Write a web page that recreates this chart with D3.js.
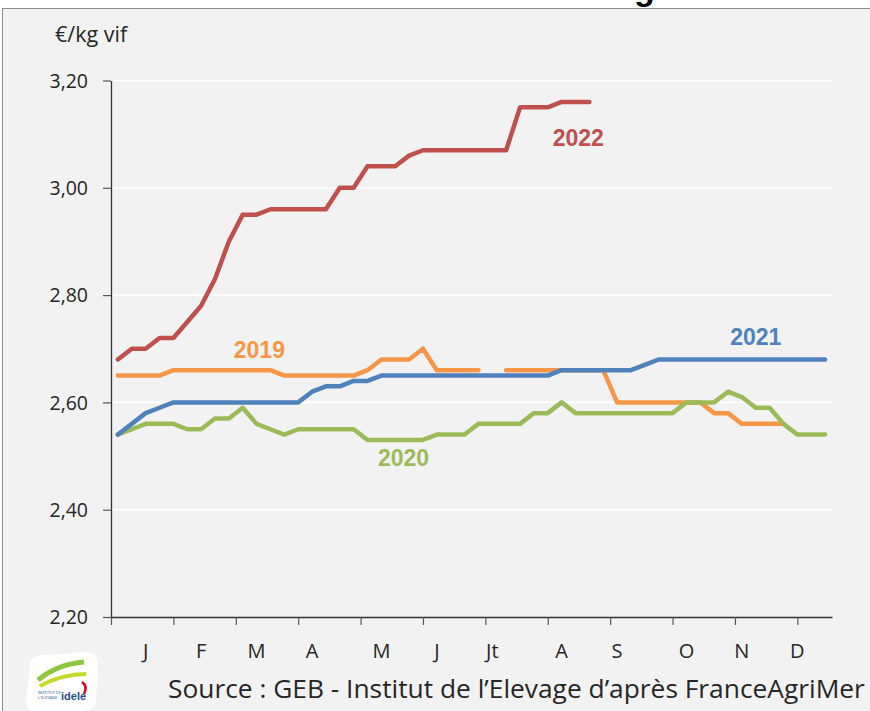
<!DOCTYPE html>
<meta charset="utf-8">
<style>
body { margin: 0; background: #fff; }
svg, text { font-family: 'Open Sans', sans-serif; }
</style>
<body>
<script src="https://d3js.org/d3.v7.min.js"></script>
<script>

// weekly prices, 52 weeks, null = no quote
var s2019 = [2.65,2.65,2.65,2.65,2.66,2.66,2.66,2.66,2.66,2.66,2.66,2.66,2.65,2.65,2.65,2.65,2.65,2.65,2.66,2.68,
             2.68,2.68,2.70,2.66,2.66,2.66,2.66,null,2.66,2.66,2.66,2.66,2.66,2.66,2.66,2.66,2.60,2.60,2.60,2.60,
             2.60,2.60,2.60,2.58,2.58,2.56,2.56,2.56,2.56,null,null,null];
var s2020 = [2.54,2.55,2.56,2.56,2.56,2.55,2.55,2.57,2.57,2.59,2.56,2.55,2.54,2.55,2.55,2.55,2.55,2.55,2.53,2.53,
             2.53,2.53,2.53,2.54,2.54,2.54,2.56,2.56,2.56,2.56,2.58,2.58,2.60,2.58,2.58,2.58,2.58,2.58,2.58,2.58,
             2.58,2.60,2.60,2.60,2.62,2.61,2.59,2.59,2.56,2.54,2.54,2.54];
var s2021 = [2.54,2.56,2.58,2.59,2.60,2.60,2.60,2.60,2.60,2.60,2.60,2.60,2.60,2.60,2.62,2.63,2.63,2.64,2.64,2.65,
             2.65,2.65,2.65,2.65,2.65,2.65,2.65,2.65,2.65,2.65,2.65,2.65,2.66,2.66,2.66,2.66,2.66,2.66,2.67,2.68,
             2.68,2.68,2.68,2.68,2.68,2.68,2.68,2.68,2.68,2.68,2.68,2.68];
var s2022 = [2.68,2.70,2.70,2.72,2.72,2.75,2.78,2.83,2.90,2.95,2.95,2.96,2.96,2.96,2.96,2.96,3.00,3.00,3.04,3.04,
             3.04,3.06,3.07,3.07,3.07,3.07,3.07,3.07,3.07,3.15,3.15,3.15,3.16,3.16,3.16];

var monthLabels = ["J","F","M","A","M","J","Jt","A","S","O","N","D"];
var monthWeeks  = [2,6,10,14,19,23,27,32,36,41,45,49];
var tickWeeks   = [0,4.5,9,13.5,18,22.5,27,31.5,36,40.5,45,49.5];
var yTicks      = [2.2,2.4,2.6,2.8,3.0,3.2];

var years   = ["2019","2020","2021","2022"];
var colors  = ["#F79646","#9BBB59","#4F81BD","#C0504D"];
var series  = [s2019,s2020,s2021,s2022];
// where each year label sits: [week, value]
var yearLabelPos = [[10.7,2.683],[21.1,2.481],[46.5,2.707],[33.7,3.078]];

var W = 870, H = 711;
var svg = d3.select("body").append("svg").attr("width", W).attr("height", H);

// cut-off title at very top
svg.append("text").attr("x", 634).attr("y", 0)
    .style("font-family","'Liberation Sans', Arial, sans-serif")
    .style("font-weight","bold").style("font-size","34px").attr("fill","#000").text("g");

// panel
svg.append("rect").attr("x", 2.5).attr("y", 8.5).attr("width", 880).attr("height", 720)
    .attr("fill", "#F2F2F2").attr("stroke", "#8a8a8a").attr("stroke-width", 1);

var x = d3.scaleLinear().domain([0, 52]).range([111, 832]);
var y = d3.scaleLinear().domain([2.2, 3.2]).range([617, 80.5]);

// gridlines
svg.append("g").selectAll("line").data(yTicks.slice(1)).join("line")
    .attr("x1", x(0)).attr("x2", x(52))
    .attr("y1", function(d){ return y(d); }).attr("y2", function(d){ return y(d); })
    .attr("stroke", "#fff").attr("stroke-width", 1.6);

var yAxis = d3.axisLeft(y).tickValues(yTicks).tickSize(8).tickSizeOuter(0)
    .tickFormat(function(d){ return d3.format(".2f")(d).replace(".", ","); });
var gy = svg.append("g").attr("transform", "translate(" + x(0) + ",0)").call(yAxis);
gy.selectAll("text").attr("x", -23).attr("dy", "0.35em").style("font-size", "19.5px").attr("fill", "#262626");

var xAxis = d3.axisBottom(x).tickValues(tickWeeks).tickSize(8).tickSizeOuter(0).tickFormat("");
var gx = svg.append("g").attr("transform", "translate(0," + y(2.2) + ")").call(xAxis);

svg.selectAll(".domain").attr("stroke", "#333").attr("stroke-width", 1.3);
svg.selectAll(".tick line").attr("stroke", "#555").attr("stroke-width", 1.2);

// month labels
svg.append("g").selectAll("text").data(monthLabels).join("text")
    .attr("x", function(d, i){ return x(monthWeeks[i] + 0.5); })
    .attr("y", 658)
    .attr("text-anchor", "middle").style("font-size", "20px").attr("fill", "#262626")
    .text(function(d){ return d; });

// lines
var line = d3.line()
    .defined(function(d){ return d != null; })
    .x(function(d, i){ return x(i + 0.5); })
    .y(function(d){ return y(d); });

series.forEach(function(s, k){
  svg.append("path").datum(s)
      .attr("d", line)
      .attr("fill", "none")
      .attr("stroke", colors[k])
      .attr("stroke-width", 4.5)
      .attr("stroke-linejoin", "round")
      .attr("stroke-linecap", "round");
});

// year labels
svg.append("g").selectAll("text").data(years).join("text")
    .attr("x", function(d, i){ return x(yearLabelPos[i][0]); })
    .attr("y", function(d, i){ return y(yearLabelPos[i][1]); })
    .attr("text-anchor", "middle")
    .style("font-family", "'Liberation Sans', Arial, sans-serif")
    .style("font-weight", "bold").style("font-size", "23px")
    .attr("fill", function(d, i){ return colors[i]; })
    .text(function(d){ return d; });

// unit
svg.append("text").attr("x", 55).attr("y", 42).style("font-size", "21.5px").attr("fill", "#262626").text("€/kg vif");

// source
var src = svg.append("text").attr("x", 168).attr("y", 698).style("font-size", "20px").attr("fill", "#262626")
    .text("Source : GEB - Institut de l\u2019Elevage d\u2019après FranceAgriMer");
var len = src.node().getComputedTextLength();
src.style("font-size", (20 * 697 / len) + "px");

// logo
var logo = svg.append("g").attr("transform", "translate(24,654)");
logo.append("path")
    .attr("d", "M6,14 Q4,2 20,1 L62,-2 Q74,-2 74,12 L72,46 Q71,57 58,57 L14,58 Q2,58 2,46 Z")
    .attr("fill", "#fff");
logo.append("path").attr("d", "M14,26 Q34,10 60,8").attr("fill", "none").attr("stroke", "#8DC63F").attr("stroke-width", 5);
logo.append("path").attr("d", "M16,32 Q38,20 62,20").attr("fill", "none").attr("stroke", "#C5D92D").attr("stroke-width", 4);
logo.append("path").attr("d", "M58,28 q6,4 2,12").attr("fill", "none").attr("stroke", "#E2001A").attr("stroke-width", 2.5);
logo.append("text").attr("x", 14).attr("y", 40).style("font-size", "4px").attr("fill", "#1d4f91").text("INSTITUT DE");
logo.append("text").attr("x", 14).attr("y", 45).style("font-size", "4px").attr("fill", "#1d4f91").text("L'ELEVAGE");
logo.append("text").attr("x", 37).attr("y", 46).style("font-family", "'Liberation Sans', Arial, sans-serif")
    .style("font-weight", "bold").style("font-size", "11px").attr("fill", "#1d4f91").text("idele");

</script>
</body>
